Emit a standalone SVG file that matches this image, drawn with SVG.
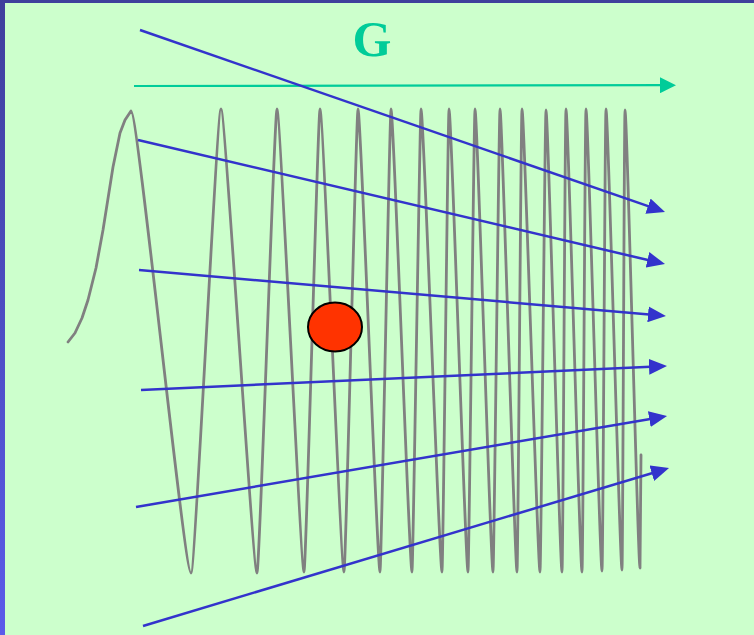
<svg xmlns="http://www.w3.org/2000/svg" width="754" height="635" viewBox="0 0 754 635">
  <defs>
    <linearGradient id="leftBand" x1="0" y1="0" x2="0" y2="1">
      <stop offset="0" stop-color="#3F3F9C"/>
      <stop offset="1" stop-color="#5B5BEA"/>
    </linearGradient>
    <marker id="blueHead" markerUnits="userSpaceOnUse" markerWidth="18" markerHeight="16" refX="7" refY="8" orient="auto">
      <path d="M0,0 L18,8 L0,16 Z" fill="#3333CC"/>
    </marker>
    <marker id="greenHead" markerUnits="userSpaceOnUse" markerWidth="16" markerHeight="16" refX="6" refY="8" orient="auto">
      <path d="M0,0 L16,8 L0,16 Z" fill="#00CC99"/>
    </marker>
  </defs>
  <style>
    .wave { fill: none; stroke: #808080; stroke-width: 2.8; stroke-linejoin: round; stroke-linecap: round; }
    .blue { fill: none; stroke: #3333CC; stroke-width: 2.5; marker-end: url(#blueHead); }
    .green { fill: none; stroke: #00CC99; stroke-width: 2.2; marker-end: url(#greenHead); }
    .label { font-family: "Liberation Serif", "Times New Roman", serif; font-weight: bold; fill: #00CC99; }
  </style>

  <rect x="0" y="0" width="754" height="635" fill="#CCFFCC"/>
  <rect x="0" y="0" width="754" height="3" fill="#3F3F9C"/>
  <rect x="0" y="0" width="5" height="635" fill="url(#leftBand)"/>

  <g id="wave">
    <path class="wave" d="M68,342 L75,333 L82,318 L88,300 L96,268 L103,230 L113,167 L120,133 L125,120 L131,111
      C138,111 184,573 191,573
      C195,573 217,109 221,109
      C225,109 253,573 257,573
      C259.5,573 274.5,109 277,109
      C280,109 301,572 304,572
      C306,572 318,109 320,109
      C323,109 341,572 344,572
      C345.7,572 356.3,109 358,109
      C360.6,109 377.4,572 380,572
      C381.3,572 389.7,109 391,109
      C393.5,109 409.5,572 412,572
      C413,572 420,109 421,109
      C423.5,109 439.5,572 442,572
      C443,572 448,109 449,109
      C451.3,109 465.7,572 468,572
      C469,572 474,109 475,109
      C477.2,109 490.8,572 493,572
      C494,572 499,109 500,109
      C502,109 515,572 517,572
      C518,572 521,109 522,109
      C524.2,109 537.8,572 540,572
      C541,572 545,110 546,110
      C548,110 560,572 562,572
      C563,572 565,109 566,109
      C568,109 580,572 582,572
      C583,572 585,109 586,109
      C588,109 600,571 602,571
      C603,571 605,109 606,109
      C608,109 620,570 622,570
      C622.75,570 624.25,110 625,110
      C627,110 638,568 640,568
      L641,455"/>
  </g>

  <g id="connectors">
    <line class="green" x1="134" y1="86" x2="666" y2="85.2"/>
    <line class="blue" x1="140" y1="30" x2="654.6" y2="208.4"/>
    <line class="blue" x1="138" y1="140" x2="654.3" y2="261.5"/>
    <line class="blue" x1="139" y1="270" x2="655" y2="315"/>
    <line class="blue" x1="141" y1="390" x2="656" y2="366.5"/>
    <line class="blue" x1="136" y1="507" x2="656.2" y2="417.9"/>
    <line class="blue" x1="143" y1="626" x2="658.5" y2="471.2"/>
  </g>

  <g id="particle">
    <ellipse cx="335" cy="327" rx="27" ry="24.5" fill="#FF3300" stroke="#000000" stroke-width="2"/>
  </g>

  <g id="label-G">
    <text class="label" x="372" y="56" font-size="50" text-anchor="middle">G</text>
  </g>
</svg>
